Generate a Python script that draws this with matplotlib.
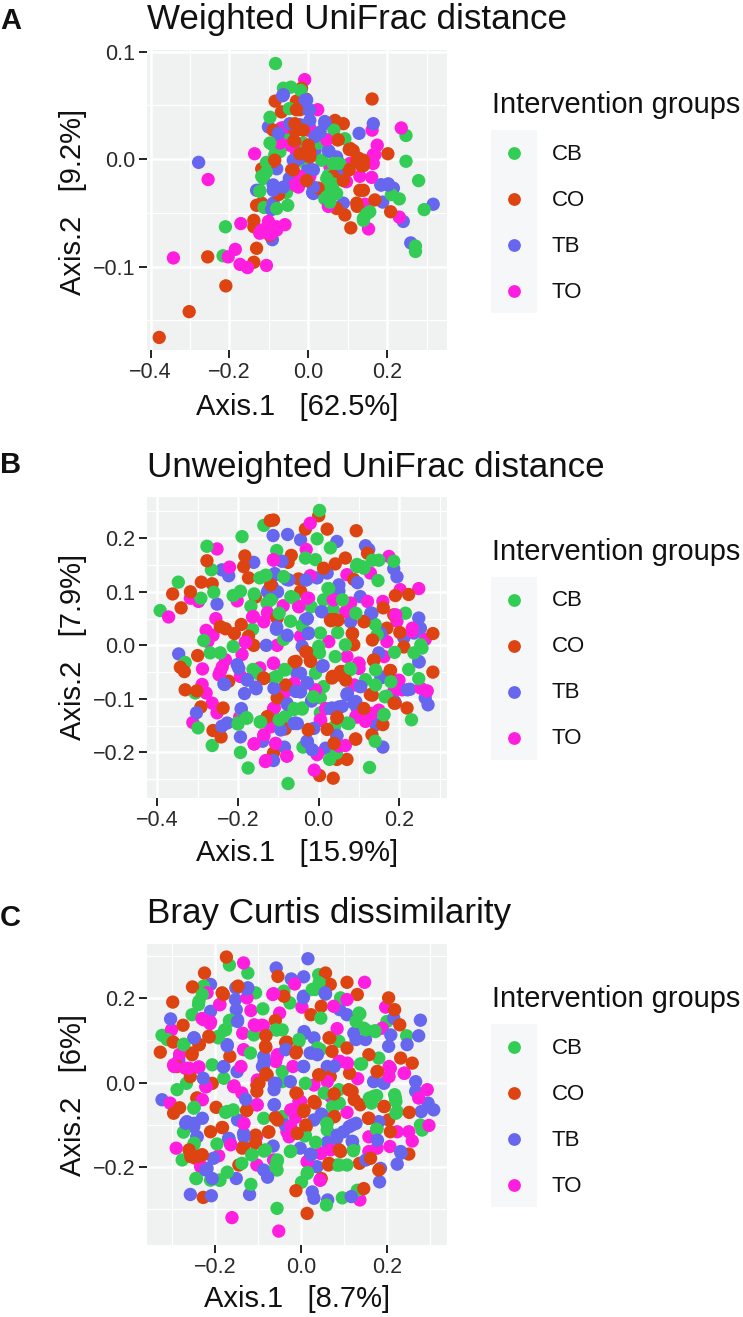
#!/usr/bin/env python3
"""Three PCoA panels, one scatter each, with a legend beside every panel."""
import matplotlib
matplotlib.use("Agg")
import matplotlib.pyplot as plt
from matplotlib.patches import Rectangle
from matplotlib.lines import Line2D

W, H = 743, 1317
plt.rcParams["font.family"] = ["Liberation Sans", "DejaVu Sans"]

GROUPS = ["CB", "CO", "TB", "TO"]
COLORS = {"CB": "#33CC55", "CO": "#DD4411", "TB": "#6666EE", "TO": "#FF1EE0"}
LEGEND_TITLE = "Intervention groups"

# Panel A, Weighted UniFrac
A_CB = [(-0.083,0.089),(0.248,0.022),(0.248,-0.002),(0.280,-0.020),(0.294,-0.047),(0.272,-0.086),(0.272,-0.081),
        (-0.210,-0.063),(-0.216,-0.090),(-0.052,-0.043),(-0.112,-0.045),(-0.055,-0.031),(-0.123,-0.029),(-0.114,-0.018),
        (-0.110,-0.010),(-0.089,0.013),(-0.097,0.039),(-0.063,0.066),(-0.044,0.067),(-0.019,0.064),(-0.048,0.047),
        (-0.063,0.021),(-0.076,0.008),(-0.013,0.015),(0.065,0.027),(0.093,0.019),(0.034,-0.001),(0.080,-0.004),
        (0.051,-0.015),(0.055,-0.026),(0.072,-0.032),(0.051,-0.038),(-0.004,-0.006),(0.025,0.015),(0.211,-0.033),
        (0.231,-0.037),(0.148,-0.051),(0.140,-0.057),(-0.080,-0.046),
        (-0.106,-0.003),(-0.114,-0.016),(-0.123,-0.030),(0.059,-0.033),(0.042,-0.037),(-0.008,0.001),(-0.085,0.004),
        (-0.072,0.007),(0.063,-0.023),(0.047,-0.018),(0.063,-0.029),(0.047,-0.035),(0.055,-0.040),(-0.118,-0.016),
        (-0.106,-0.012),(-0.097,0.015),(0.063,-0.004),(0.076,-0.004),(0.140,-0.055),(0.156,-0.049)]
A_CO = [(-0.378,-0.166),(-0.302,-0.142),(-0.209,-0.118),(-0.255,-0.091),(-0.131,-0.083),(-0.138,-0.096),(-0.138,-0.057),
        (-0.138,-0.063),(-0.131,-0.043),(-0.118,-0.041),(-0.097,-0.071),(0.162,0.056),(0.202,0.005),(-0.084,0.054),
        (-0.030,0.054),(-0.006,0.056),(-0.017,0.066),(-0.021,0.046),(-0.068,0.044),(0.089,0.033),(0.068,0.036),
        (0.074,0.018),(0.106,0.010),(0.127,0.001),(0.140,-0.006),(0.101,-0.010),(0.027,-0.028),(-0.004,-0.018),
        (-0.034,0.016),(-0.089,-0.002),(-0.118,-0.009),(-0.042,-0.010),(-0.075,-0.033),(0.131,-0.029),(0.169,-0.038),
        (0.124,-0.044),(0.072,-0.046),(0.093,-0.052),(0.108,-0.064),(0.209,-0.049),(-0.030,0.027),(-0.089,0.027),
        (0.004,0.007),(0.063,-0.016),
        (0.076,0.018),(0.104,0.009),(0.135,-0.006),(0.104,-0.010),(0.025,-0.027),(-0.036,0.017),(-0.034,0.027),
        (0.004,0.002),(-0.085,-0.001),(0.123,-0.041),(0.140,-0.029),(0.114,0.008),(0.123,-0.002),(0.140,-0.001),
        (-0.004,-0.020),(-0.038,-0.010),(-0.021,0.005),(0.000,0.013),(-0.034,0.033),(-0.013,0.027),(-0.030,0.046),
        (0.089,-0.020)]
A_TB = [(-0.278,-0.003),(0.317,-0.042),(0.260,-0.078),(0.241,-0.058),(0.189,-0.040),(0.184,-0.024),(0.203,-0.023),
        (0.216,-0.027),(0.165,0.033),(0.129,0.024),(-0.091,-0.075),(-0.093,-0.047),(-0.089,-0.041),(-0.101,0.030),
        (-0.065,0.059),(-0.080,-0.009),(-0.089,-0.024),(-0.131,-0.029),(-0.048,-0.018),(-0.025,-0.001),(-0.036,0.025),
        (0.003,0.046),(-0.008,0.055),(0.042,0.033),(0.025,0.024),(0.017,0.008),(0.053,0.007),(0.079,-0.015),
        (0.011,-0.031),(0.089,-0.041),(0.013,-0.010),
        (-0.063,0.060),(0.000,0.046),(-0.004,0.055),(0.042,0.035),(0.051,0.008),(-0.047,-0.018),(0.076,-0.015),
        (0.013,-0.032),(0.186,-0.024),(0.203,-0.024),(0.000,-0.009),(-0.055,0.030),(-0.021,0.032),(-0.063,-0.026),
        (-0.021,0.001),(-0.038,-0.001),(0.030,0.025),(0.017,0.021),(0.004,0.036),(0.072,0.002),(0.013,-0.026),
        (0.008,-0.010),(-0.076,0.024),(-0.047,0.033),(-0.089,-0.029)]
A_TO = [(-0.342,-0.092),(-0.254,-0.019),(-0.136,0.005),(-0.009,0.074),(0.236,0.029),(0.162,0.027),(0.175,0.013),
        (0.165,-0.004),(0.165,0.004),(0.161,-0.017),(0.131,-0.016),(0.231,-0.054),(0.153,-0.065),(0.144,-0.042),
        (0.106,-0.004),(0.097,-0.021),(0.055,-0.007),(0.059,-0.043),(0.024,0.046),(0.004,0.029),(-0.063,0.029),
        (-0.030,0.007),(-0.030,-0.020),(-0.059,-0.061),(-0.171,-0.060),(-0.185,-0.084),(-0.203,-0.091),(-0.173,-0.098),
        (-0.154,-0.101),(-0.106,-0.099),(-0.123,-0.069),(-0.106,-0.065),(-0.089,-0.066),(-0.101,-0.058),(-0.080,-0.063),
        (0.000,0.027),(-0.068,0.029),(-0.025,-0.026),(0.047,0.018),(-0.047,0.013),(0.169,0.004),(0.004,-0.016),
        (-0.055,0.030),(-0.034,-0.024),(-0.021,-0.016),(0.051,-0.044),(-0.038,0.013),(-0.072,0.015),(-0.118,-0.066),
        (-0.096,-0.070),(-0.080,-0.066)]

# Panel B, Unweighted UniFrac
B_CB = [(-0.393,0.065),(-0.348,0.118),(-0.292,0.088),(-0.277,0.185),(-0.266,0.141),(-0.260,0.099),(-0.190,0.203),
        (-0.136,0.224),(-0.104,0.177),(-0.212,0.093),(-0.194,0.101),(-0.168,0.073),(-0.160,0.096),(-0.132,0.130),
        (-0.146,0.126),(-0.087,0.128),(-0.128,0.079),(-0.116,0.088),(-0.164,0.030),(-0.212,-0.002),(-0.269,-0.014),
        (-0.244,-0.014),(-0.285,0.009),(-0.331,-0.032),(-0.306,-0.089),(-0.299,-0.154),(-0.264,-0.187),(-0.194,-0.200),
        (-0.175,-0.229),(-0.076,-0.258),(-0.202,-0.145),(-0.178,-0.136),(-0.192,-0.120),(-0.145,-0.143),(-0.163,-0.045),
        (-0.153,-0.052),(-0.112,-0.061),(-0.085,-0.045),(-0.103,-0.139),(-0.083,-0.133),(-0.062,-0.120),(-0.041,-0.117),
        (-0.039,-0.190),(0.002,0.252),(-0.004,0.199),(-0.033,0.163),(-0.008,0.160),(0.029,0.182),(0.025,0.106),
        (0.012,0.085),(-0.070,0.045),(-0.041,0.037),(-0.019,0.072),(0.004,0.023),(0.047,0.024),(0.036,0.067),
        (0.000,-0.002),(0.002,-0.014),(-0.087,0.011),(-0.062,0.088),(0.041,-0.021),(-0.008,-0.052),(0.012,-0.077),
        (0.004,-0.098),(0.004,-0.126),(0.039,-0.152),(0.070,-0.145),(0.027,-0.213),(0.044,-0.201),(0.126,-0.228),
        (0.140,-0.179),(0.162,-0.129),(0.230,-0.139),(0.116,-0.064),(0.079,-0.045),(0.140,0.039),(0.145,0.020),
        (0.095,0.151),(0.112,0.144),(0.149,0.159),(0.186,0.157),(0.147,0.121),(0.215,0.060),(0.188,-0.013),
        (0.223,-0.045),(0.248,-0.062),(0.236,-0.014),(0.256,-0.005),(0.168,-0.095),(0.066,0.001),
        (0.078,-0.043),(0.141,-0.074),(0.141,-0.046),(0.179,-0.068),(0.164,-0.096),(-0.041,-0.119),(0.161,-0.130),
        (0.075,-0.146),(-0.013,-0.096),(0.094,0.147),(0.108,0.147),(0.133,0.159),(0.023,0.106),(0.092,0.060),
        (0.059,0.085),(0.253,0.001),(-0.131,0.131),(-0.087,0.128),(-0.119,0.085),(-0.098,0.060),(-0.069,0.091),
        (-0.104,-0.058),(-0.083,-0.046),(-0.098,-0.139),(-0.061,-0.118),(-0.144,-0.143),(-0.200,-0.147),(-0.179,-0.135)]
B_CO = [(-0.362,0.096),(-0.341,0.070),(-0.318,0.100),(-0.291,0.118),(-0.264,0.115),(-0.277,0.158),(-0.183,0.167),
        (-0.186,0.147),(-0.174,0.126),(-0.157,0.090),(-0.120,0.233),(-0.112,0.234),(-0.068,0.168),(-0.076,0.155),
        (-0.033,0.217),(0.000,0.242),(0.021,0.217),(0.093,0.214),(-0.244,0.035),(-0.231,0.031),(-0.209,0.022),
        (-0.192,0.039),(-0.174,0.017),(-0.161,0.000),(-0.103,0.051),(-0.045,0.101),(-0.050,0.124),(-0.300,-0.019),
        (-0.343,-0.041),(-0.333,-0.049),(-0.331,-0.083),(-0.302,-0.085),(-0.292,-0.115),(-0.237,-0.117),(-0.223,-0.067),
        (-0.262,-0.159),(-0.242,-0.171),(-0.136,-0.061),(-0.056,-0.030),(-0.021,-0.028),(-0.025,-0.014),(-0.083,-0.077),
        (-0.101,-0.098),(-0.128,-0.134),(-0.083,-0.156),(-0.025,-0.157),(-0.112,-0.201),(0.002,-0.243),(0.036,-0.248),
        (0.070,-0.213),(0.045,-0.213),(0.091,-0.175),(0.039,-0.185),(0.132,-0.167),(0.159,-0.148),(0.219,-0.117),
        (0.190,-0.108),(0.283,-0.050),(0.283,0.022),(0.178,-0.047),(0.136,-0.028),(0.211,-0.003),(0.201,0.024),
        (0.190,0.093),(0.223,0.095),(0.186,0.057),(0.160,0.070),(0.169,0.032),(0.114,0.045),(0.084,0.022),
        (0.087,0.001),(0.039,0.048),(0.029,0.048),(0.050,-0.055),(0.058,-0.049),(0.033,-0.061),(0.045,-0.136),
        (0.128,-0.092),(0.066,0.163),(0.041,0.152),(0.012,0.144),(0.121,0.172),(0.087,0.123),
        (-0.032,-0.012),(-0.020,-0.030),(0.034,-0.058),(0.054,-0.049),(0.067,-0.065),(0.133,-0.093),(0.137,-0.027),
        (0.177,-0.047),(0.046,-0.134),(0.112,-0.118),(-0.026,-0.158),(0.021,-0.157),(0.092,-0.175),(0.038,-0.183),
        (0.187,-0.108),(0.030,0.046),(0.048,0.047),(0.112,0.044),(0.083,0.022),(0.133,0.010),(-0.104,0.052),
        (-0.119,0.113),(-0.082,-0.074),(-0.103,-0.098),(-0.127,-0.133),(-0.137,-0.062),(-0.061,-0.031)]
B_TB = [(-0.347,-0.016),(-0.252,0.077),(-0.240,0.141),(-0.223,0.130),(-0.161,0.155),(-0.113,0.205),(-0.077,0.207),
        (-0.045,0.197),(0.045,0.194),(0.116,0.186),(0.124,0.179),(0.186,0.143),(0.194,0.128),(0.248,0.051),
        (0.252,0.032),(0.236,0.023),(0.211,0.014),(0.248,-0.030),(0.264,-0.098),(0.271,-0.111),(0.226,-0.082),
        (0.188,-0.105),(0.159,-0.190),(0.142,-0.148),(0.157,-0.060),(0.132,0.060),(0.103,0.091),(0.050,0.113),
        (0.050,0.101),(0.021,0.135),(-0.004,0.126),(-0.029,0.123),(-0.079,0.123),(-0.109,0.134),(-0.124,0.104),
        (-0.091,0.157),(0.008,0.063),(-0.033,0.048),(0.079,0.044),(-0.025,0.023),(-0.041,-0.002),(-0.079,0.017),
        (-0.105,0.030),(-0.130,0.000),(-0.202,-0.036),(-0.178,-0.064),(-0.155,-0.081),(-0.184,-0.090),(-0.233,-0.073),
        (-0.303,-0.126),(-0.227,-0.145),(-0.240,-0.151),(-0.194,-0.171),(-0.192,-0.118),(-0.139,-0.179),(-0.112,-0.215),
        (-0.085,-0.190),(-0.029,-0.179),(0.017,-0.192),(0.045,-0.169),(-0.058,-0.145),(-0.079,-0.108),(-0.050,-0.085),
        (-0.017,-0.103),(-0.029,-0.070),(-0.054,-0.052),(0.011,-0.038),(0.103,-0.077),(0.070,-0.092),(0.087,-0.108),
        (0.033,-0.117),(0.058,-0.114),(0.095,-0.117),(0.149,-0.014),(0.153,0.023),
        (0.009,-0.039),(-0.045,-0.052),(-0.028,-0.070),(-0.045,-0.087),(-0.018,-0.104),(0.071,-0.090),(0.104,-0.077),
        (0.092,-0.105),(0.050,-0.115),(0.030,-0.118),(0.154,-0.059),(0.249,-0.031),(0.187,-0.105),(0.220,-0.083),
        (0.045,-0.168),(-0.028,-0.180),(-0.016,-0.195),(-0.012,-0.155),(-0.053,-0.146),(-0.032,0.122),(0.096,0.117),
        (0.129,0.060),(0.007,0.063),(-0.028,0.050),(-0.026,0.022),(-0.127,0.100),(-0.102,0.100),(-0.115,0.110),
        (-0.111,0.131),(-0.074,0.122),(-0.104,0.034),(-0.078,0.019),(-0.061,-0.146),(-0.094,-0.158),(-0.078,-0.110),
        (-0.111,-0.080),(-0.057,-0.086),(-0.177,-0.065),(-0.198,-0.043),(-0.156,-0.078),(-0.235,-0.072)]
B_TO = [(-0.372,0.053),(-0.298,0.082),(-0.318,0.088),(-0.252,0.180),(-0.221,0.146),(-0.202,0.083),(-0.255,0.050),
        (-0.279,0.028),(-0.262,0.019),(-0.275,0.007),(-0.182,0.006),(-0.190,-0.017),(-0.231,-0.027),(-0.244,-0.049),
        (-0.288,-0.044),(-0.289,-0.073),(-0.279,-0.089),(-0.264,-0.108),(-0.252,-0.126),(-0.312,-0.144),(-0.194,-0.058),
        (-0.196,-0.134),(-0.160,-0.184),(-0.136,-0.169),(-0.132,-0.217),(-0.106,-0.184),(-0.079,-0.206),(-0.118,-0.151),
        (-0.110,-0.117),(-0.112,-0.033),(-0.146,-0.042),(-0.103,0.000),(-0.164,0.053),(-0.136,0.044),(-0.112,0.160),
        (-0.088,0.074),(-0.050,0.073),(-0.025,0.088),(-0.045,0.017),(0.025,0.007),(0.070,-0.021),(0.099,-0.033),
        (-0.031,0.179),(-0.021,0.228),(-0.021,0.130),(0.070,0.132),(0.128,0.135),(0.174,0.166),(0.248,0.106),
        (0.202,0.104),(0.121,0.082),(0.079,0.079),(0.159,0.082),(0.194,0.045),(0.231,0.026),(0.264,0.011),
        (0.169,0.007),(0.186,-0.086),(0.269,-0.085),(0.207,-0.083),(0.149,-0.121),(0.095,-0.134),(0.116,-0.142),
        (0.066,-0.187),(-0.004,-0.204),(-0.011,-0.233),(0.004,-0.139),(-0.008,-0.083),(-0.062,-0.077),
        (0.100,-0.034),(0.100,-0.043),(0.162,-0.021),(0.088,-0.074),(0.253,-0.080),(0.092,-0.133),(0.133,-0.127),
        (0.005,-0.140),(0.050,-0.188),(-0.003,-0.202),(0.199,-0.065),(0.017,-0.118),(0.067,0.063),(-0.049,0.072),
        (-0.028,0.088),(0.036,0.085),(0.191,0.057),(0.232,0.032),(-0.112,0.159),(-0.127,0.061),(-0.162,0.054),
        (-0.181,0.006),(-0.247,-0.055),(-0.239,-0.040),(-0.193,-0.058),(-0.112,-0.034),(-0.061,-0.071),(-0.082,-0.086),
        (-0.112,-0.118),(-0.119,-0.152),(-0.107,-0.183),(-0.079,-0.207),(-0.131,-0.215),(-0.160,-0.184),(-0.136,-0.167)]

# Panel C, Bray Curtis
C_CB = [(-0.324,0.112),(-0.312,0.102),(-0.289,-0.017),(-0.267,-0.002),(-0.274,0.090),(-0.254,0.161),(-0.239,0.185),
        (-0.227,0.229),(-0.167,0.279),(-0.124,0.260),(-0.106,0.213),(-0.167,0.147),(-0.178,0.125),(-0.192,0.110),
        (-0.207,0.042),(-0.180,0.010),(-0.118,0.070),(-0.110,0.113),(-0.089,0.175),(-0.026,0.189),(-0.040,0.217),
        (-0.056,0.125),(-0.005,0.098),(0.033,0.221),(0.041,0.256),(0.092,0.201),(0.137,0.163),(0.146,0.129),
        (0.173,0.121),(0.200,0.145),(0.246,0.111),(0.181,0.058),(0.138,0.044),(0.088,0.098),(0.045,0.078),
        (-0.044,0.026),(-0.044,0.002),(0.010,-0.002),(0.088,-0.017),(0.076,-0.057),(0.061,-0.097),(0.061,-0.113),
        (0.169,-0.033),(0.162,-0.041),(0.220,-0.037),(0.224,-0.069),(0.278,-0.101),(0.282,-0.113),(0.177,-0.109),
        (-0.250,-0.061),(-0.274,-0.118),(-0.196,-0.146),(-0.250,-0.148),(-0.277,-0.184),(-0.245,-0.228),(-0.211,-0.232),
        (-0.190,-0.232),(-0.172,-0.213),(-0.117,-0.242),(-0.114,-0.171),(-0.138,-0.192),(-0.172,-0.069),(-0.087,-0.085),
        (-0.044,-0.081),(-0.083,-0.160),(-0.056,-0.188),(-0.056,-0.208),(-0.056,-0.299),(0.010,-0.125),(-0.025,-0.164),
        (0.014,-0.216),(0.001,-0.237),(0.059,-0.291),(0.096,-0.274),(0.131,-0.256),(0.084,-0.196),(0.107,-0.196),
        (0.123,-0.156),
        (-0.238,0.193),(-0.230,0.209),(-0.164,0.148),(-0.176,0.125),(-0.193,0.106),(-0.059,0.125),(-0.044,0.125),
        (-0.059,-0.200),(-0.055,-0.184),(-0.086,-0.163),(-0.024,-0.163),(-0.115,-0.172),(-0.189,-0.232),(-0.244,-0.228),
        (-0.249,-0.144),(-0.273,0.091),(-0.249,-0.059),(-0.176,-0.071),(-0.158,-0.065),(0.026,0.221),(0.042,0.237),
        (0.135,0.165),(0.128,0.145),(0.151,0.125),(0.172,0.123),(0.141,0.044),(0.038,0.082),(-0.005,0.102),
        (0.046,0.153),(0.054,-0.025),(0.089,-0.049),(0.073,-0.057),(0.159,-0.037),(0.176,-0.031),(0.164,-0.049),
        (0.218,-0.029),(0.221,-0.045),(0.221,-0.073),(0.176,-0.111),(0.060,-0.097),(0.009,-0.127),(0.034,-0.142),
        (0.122,-0.162),(0.089,-0.196),(0.015,-0.214)]
C_CO = [(-0.328,0.072),(-0.299,0.191),(-0.298,0.096),(-0.275,0.136),(-0.289,0.038),(-0.254,0.070),(-0.237,0.090),
        (-0.258,0.014),(-0.253,0.227),(-0.225,0.260),(-0.174,0.298),(-0.184,0.213),(-0.148,0.226),(-0.215,0.110),
        (-0.166,0.062),(-0.207,-0.002),(-0.297,-0.073),(-0.283,-0.060),(-0.242,-0.037),(-0.198,-0.059),(-0.211,-0.117),
        (-0.183,-0.107),(-0.126,-0.065),(-0.258,-0.168),(-0.231,-0.172),(-0.246,-0.180),(-0.145,-0.196),(-0.134,-0.152),
        (-0.106,-0.125),(-0.228,-0.273),(-0.075,-0.117),(-0.103,-0.006),(-0.103,-0.021),(-0.082,0.113),(-0.083,0.086),
        (-0.079,0.018),(-0.054,0.252),(-0.040,0.205),(-0.060,0.147),(-0.033,0.096),(-0.011,0.074),(0.057,0.260),
        (0.068,0.233),(0.107,0.238),(0.131,0.209),(0.047,0.181),(0.023,0.161),(0.067,0.106),(0.072,0.074),
        (0.107,0.082),(0.041,0.018),(0.068,0.014),(0.113,0.022),(0.204,0.201),(0.218,0.173),(0.230,0.137),
        (0.158,0.066),(0.177,0.026),(0.232,0.058),(0.259,0.046),(-0.009,-0.027),(0.006,-0.069),(0.033,-0.049),
        (0.119,-0.021),(0.138,-0.053),(0.193,-0.057),(0.158,-0.085),(0.204,-0.089),(0.208,-0.117),(0.251,-0.170),
        (0.136,-0.192),(0.092,-0.164),(0.064,-0.196),(0.076,-0.081),(0.047,-0.228),(-0.012,-0.257),(0.014,-0.311),
        (0.146,-0.252),(0.012,-0.105),(-0.060,-0.083),(0.181,-0.208),
        (-0.243,-0.037),(-0.184,-0.107),(-0.127,-0.067),(-0.137,-0.156),(-0.106,-0.144),(-0.076,-0.118),(-0.254,0.066),
        (-0.238,0.090),(-0.214,0.108),(-0.181,0.209),(-0.147,0.229),(-0.098,-0.002),(-0.082,0.111),(-0.082,0.084),
        (-0.036,0.095),(-0.257,-0.176),(-0.241,-0.176),(-0.261,-0.160),(-0.230,-0.172),(-0.082,0.021),(-0.055,-0.089),
        (-0.012,0.070),(-0.012,-0.025),(0.065,0.106),(0.042,0.018),(0.178,0.026),(0.111,-0.017),(0.124,-0.041),
        (0.077,-0.027),(0.078,-0.081),(0.157,-0.085),(0.194,-0.057),(0.252,-0.071),(0.089,-0.160),(0.065,-0.192),
        (0.007,-0.065),(0.030,-0.045),(0.011,-0.101),(-0.009,-0.121),(0.162,-0.180)]
C_TB = [(-0.324,-0.041),(-0.304,0.151),(-0.285,0.054),(-0.250,0.106),(-0.211,0.233),(-0.211,0.169),(-0.180,0.038),
        (-0.172,0.090),(-0.149,0.026),(-0.153,0.197),(-0.151,0.173),(-0.124,0.225),(-0.148,0.149),(-0.058,0.272),
        (-0.023,0.246),(0.006,0.251),(0.016,0.294),(0.006,0.205),(0.057,0.210),(0.090,0.173),(0.107,0.161),
        (0.008,0.117),(0.030,0.106),(0.026,0.070),(-0.087,0.062),(-0.087,0.042),(0.005,0.038),(0.061,0.038),
        (0.123,0.117),(0.150,0.102),(0.169,0.002),(0.193,-0.002),(0.204,0.086),(0.216,0.153),(0.278,0.148),
        (0.274,0.111),(0.247,0.090),(0.267,0.002),(0.267,-0.021),(0.296,-0.049),(0.309,-0.065),(0.280,-0.069),
        (-0.062,-0.002),(-0.062,-0.053),(-0.025,0.002),(-0.134,-0.121),(-0.169,-0.133),(-0.242,-0.129),(-0.230,-0.085),
        (-0.266,-0.093),(-0.250,-0.105),(-0.219,-0.204),(-0.204,-0.180),(-0.258,-0.266),(-0.209,-0.269),(-0.120,-0.266),
        (-0.151,-0.228),(-0.087,-0.208),(-0.065,-0.151),(-0.002,-0.156),(0.022,-0.170),(0.037,-0.200),(0.030,-0.275),
        (0.062,-0.279),(0.026,-0.260),(0.119,-0.140),(0.084,-0.125),(0.061,-0.142),(0.099,-0.117),(0.119,-0.101),
        (0.049,-0.077),(-0.037,-0.101),(0.185,-0.204),(0.183,-0.236),(0.224,-0.194),(0.117,-0.271),(0.181,-0.093),
        (0.232,-0.164),
        (-0.249,-0.097),(-0.269,-0.097),(-0.243,-0.129),(-0.148,-0.089),(-0.133,-0.129),(-0.168,-0.133),(-0.086,0.050),
        (-0.090,0.038),(-0.059,-0.002),(-0.063,-0.053),(-0.063,-0.017),(-0.152,0.225),(-0.126,0.222),(-0.172,0.087),
        (-0.181,0.037),(-0.249,0.106),(-0.148,0.145),(-0.228,0.010),(-0.129,-0.040),(-0.078,-0.225),(-0.222,-0.208),
        (-0.207,-0.228),(-0.036,0.078),(0.005,0.201),(0.056,0.213),(0.128,0.102),(0.007,0.121),(0.021,0.070),
        (0.038,0.066),(0.006,0.038),(0.077,0.038),(0.209,0.113),(0.047,-0.075),(0.030,-0.089),(0.128,-0.097),
        (0.112,-0.105),(0.083,-0.133),(0.120,-0.140),(0.023,-0.172),(0.233,-0.168),(0.178,-0.137),(0.151,-0.184)]
C_TO = [(-0.305,-0.049),(-0.302,0.125),(-0.297,0.042),(-0.283,0.067),(-0.270,0.034),(-0.239,0.036),(-0.227,0.149),
        (-0.211,0.144),(-0.190,0.185),(-0.219,0.213),(-0.134,0.284),(-0.126,0.201),(-0.117,0.171),(-0.136,0.117),
        (-0.134,0.078),(-0.140,0.038),(-0.221,-0.010),(-0.157,-0.010),(-0.103,-0.053),(-0.134,-0.097),(-0.104,-0.129),
        (-0.165,-0.144),(-0.192,-0.174),(-0.232,-0.200),(-0.291,-0.156),(-0.161,-0.321),(-0.052,-0.353),(-0.103,-0.196),
        (-0.064,-0.184),(-0.109,0.137),(-0.091,0.136),(-0.066,0.209),(-0.050,0.165),(0.002,0.179),(-0.015,0.234),
        (-0.056,0.062),(-0.019,0.038),(0.030,-0.006),(-0.005,-0.045),(-0.021,-0.065),(-0.013,-0.083),(-0.033,-0.117),
        (0.076,-0.029),(0.107,-0.071),(0.088,0.050),(0.107,0.197),(0.148,0.238),(0.076,0.181),(0.084,0.128),
        (0.132,0.009),(0.189,0.129),(0.197,0.179),(0.208,0.034),(0.241,0.022),(0.294,-0.017),(0.274,-0.037),
        (0.298,-0.102),(0.251,-0.117),(0.259,-0.139),(0.224,-0.117),(0.207,-0.152),(0.158,-0.129),(0.177,-0.156),
        (0.158,-0.164),(0.045,-0.232),(0.014,-0.188),(0.045,-0.168),(0.137,-0.279),
        (-0.231,0.152),(-0.212,0.140),(-0.189,0.185),(-0.106,0.135),(-0.088,0.135),(-0.064,0.211),(-0.055,0.066),
        (-0.059,0.050),(-0.102,0.006),(-0.102,-0.053),(-0.156,-0.008),(-0.138,-0.025),(-0.222,-0.010),(-0.261,0.034),
        (-0.238,0.037),(-0.296,0.038),(-0.230,-0.041),(-0.133,-0.097),(-0.164,-0.148),(-0.234,-0.200),(-0.024,-0.105),
        (-0.028,-0.129),(-0.024,-0.065),(0.091,0.050),(0.108,0.046),(0.205,0.038),(0.205,0.014),(0.240,0.022),
        (0.046,-0.168),(0.069,-0.160),(0.015,-0.188),(0.044,-0.232),(0.061,0.002),(0.069,-0.033),(-0.001,-0.045)]

A_XTICKS = [-0.4, -0.2, 0.0, 0.2]
A_XLABELS = ["\u22120.4", "\u22120.2", "0.0", "0.2"]
A_YTICKS = [-0.1, 0.0, 0.1]
A_YLABELS = ["\u22120.1", "0.0", "0.1"]
B_YTICKS = [-0.2, -0.1, 0.0, 0.1, 0.2]
B_YLABELS = ["\u22120.2", "\u22120.1", "0.0", "0.1", "0.2"]
C_XTICKS = [-0.2, 0.0, 0.2]
C_XLABELS = ["\u22120.2", "0.0", "0.2"]
C_YTICKS = [-0.2, 0.0, 0.2]
C_YLABELS = ["\u22120.2", "0.0", "0.2"]


def px(x, y):
    """pixel from the top left -> figure fraction"""
    return x / W, 1 - y / H


fig = plt.figure(figsize=(W / 100, H / 100), dpi=100, facecolor="white")


def panel(top, bottom, tag, tag_y, title, title_y, ylabel, ylabel_y, xlabel, xlabel_y, pts,
          xticks, xlabels, yticks, ylabels, xlim, ylim, legend_dy):
    left, right = 147, 447
    ax = fig.add_axes([left / W, 1 - bottom / H, (right - left) / W, (bottom - top) / H])
    ax.set_facecolor("#F0F2F2")
    for s in ax.spines.values():
        s.set_visible(False)
    ax.set_xlim(*xlim)
    ax.set_ylim(*ylim)
    ax.set_xticks(xticks, xlabels)
    ax.set_yticks(yticks, ylabels)
    # minor grid halfway between the majors, and one step past each end
    xstep = xticks[1] - xticks[0]
    ystep = yticks[1] - yticks[0]
    xminor = [xticks[0] - xstep / 2] + [t + xstep / 2 for t in xticks]
    yminor = [yticks[0] - ystep / 2] + [t + ystep / 2 for t in yticks]
    ax.set_xticks([v for v in xminor if xlim[0] < v < xlim[1]], minor=True)
    ax.set_yticks([v for v in yminor if ylim[0] < v < ylim[1]], minor=True)
    ax.grid(True, which="major", color="white", linewidth=1.8)
    ax.grid(True, which="minor", color="white", linewidth=0.9)
    ax.tick_params(which="minor", length=0)
    ax.tick_params(which="major", length=5.5, width=1.4, color="#222222", labelsize=15.5, pad=3, labelcolor="#2a2a2a")
    ax.set_axisbelow(True)

    # draw order mixes the groups, as in the original
    xs, ys, cs, keys = [], [], [], []
    for g_i, g in enumerate(GROUPS):
        for i, (x, y) in enumerate(pts[g]):
            xs.append(x)
            ys.append(y)
            cs.append(COLORS[g])
            keys.append((i, (i + g_i) % 4))
    order = sorted(range(len(xs)), key=lambda k: keys[k])
    ax.scatter([xs[k] for k in order], [ys[k] for k in order], c=[cs[k] for k in order],
               s=92, linewidths=0, zorder=3, clip_on=False)

    fx, fy = px(0, tag_y)
    fig.text(fx, fy, tag, fontsize=21, fontweight="bold", va="center", ha="left", color="#111111")
    fx, fy = px(left, title_y)
    fig.text(fx, fy, title, fontsize=25.2, va="center", ha="left", color="#111111")
    fx, fy = px(73, ylabel_y)
    fig.text(fx, fy, ylabel, fontsize=21, rotation=90, va="center", ha="center", color="#111111")
    fx, fy = px(297, xlabel_y)
    fig.text(fx, fy, xlabel, fontsize=21, va="center", ha="center", color="#111111")

    # legend: box, keys, labels
    x0, y0 = px(491, 130 + legend_dy)
    fig.add_artist(Rectangle((x0, y0 - 183 / H), 46 / W, 183 / H, transform=fig.transFigure,
                             facecolor="#F5F7F8", edgecolor="none"))
    fx, fy = px(492, 105 + legend_dy)
    fig.text(fx, fy, LEGEND_TITLE, fontsize=20.9, va="center", ha="left", color="#111111")
    for i, g in enumerate(GROUPS):
        cy = 152.5 + 46 * i + legend_dy
        fx, fy = px(514, cy)
        fig.add_artist(Line2D([fx], [fy], marker="o", markersize=9.2, markeredgewidth=0,
                              color=COLORS[g], linestyle="", transform=fig.transFigure))
        fx, fy = px(552, cy + 1.5)
        fig.text(fx, fy, g, fontsize=16, va="center", ha="left", color="#111111")


panel(50, 350, "A", 21, "Weighted UniFrac distance", 20, "Axis.2   [9.2%]", 202, "Axis.1   [62.5%]", 407,
      {"CB": A_CB, "CO": A_CO, "TB": A_TB, "TO": A_TO},
      A_XTICKS, A_XLABELS, A_YTICKS, A_YLABELS, (-0.409, 0.352), (-0.1777, 0.1016), 0)
panel(497, 798, "B", 465, "Unweighted UniFrac distance", 467, "Axis.2   [7.9%]", 647, "Axis.1   [15.9%]", 853,
      {"CB": B_CB, "CO": B_CO, "TB": B_TB, "TO": B_TO},
      A_XTICKS, A_XLABELS, B_YTICKS, B_YLABELS, (-0.4256, 0.318), (-0.285, 0.277), 447)
panel(944, 1245, "C", 918, "Bray Curtis dissimilarity", 914, "Axis.2   [6%]", 1095, "Axis.1   [8.7%]", 1299,
      {"CB": C_CB, "CO": C_CO, "TB": C_TB, "TO": C_TO},
      C_XTICKS, C_XLABELS, C_YTICKS, C_YLABELS, (-0.359, 0.340), (-0.386, 0.329), 894)

fig.savefig("out.png", dpi=100)
